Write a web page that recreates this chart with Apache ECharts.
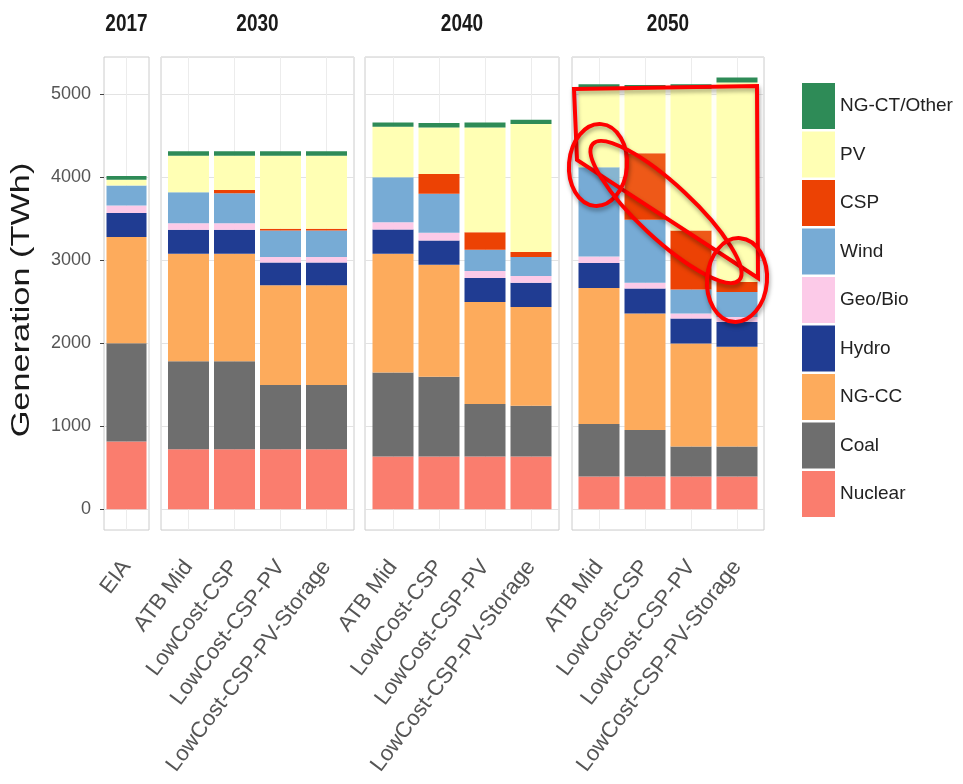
<!DOCTYPE html>
<html>
<head>
<meta charset="utf-8">
<script src="https://cdn.jsdelivr.net/npm/echarts@6/dist/echarts.min.js"></script>
<style>
  html, body { margin: 0; padding: 0; background: #ffffff; }
  #chart { width: 963px; height: 784px; }
</style>
</head>
<body>
<div id="chart"></div>
<script>
// ---- data (TWh) ----
const years = ['2017', '2030', '2040', '2050'];
const scenarios2017 = ['EIA'];
const scenarios = ['ATB Mid', 'LowCost-CSP', 'LowCost-CSP-PV', 'LowCost-CSP-PV-Storage'];
const sources = ['Nuclear', 'Coal', 'NG-CC', 'Hydro', 'Geo/Bio', 'Wind', 'CSP', 'PV', 'NG-CT/Other'];
const legendOrder = ['NG-CT/Other', 'PV', 'CSP', 'Wind', 'Geo/Bio', 'Hydro', 'NG-CC', 'Coal', 'Nuclear'];
const yTicks = [0, 1000, 2000, 3000, 4000, 5000];

// order of values: EIA 2017 | 2030 x4 scenarios | 2040 x4 | 2050 x4
const nuclear = [815, 724, 724, 724, 724, 635, 635, 635, 635, 394, 394, 394, 394];
const coal    = [1185, 1061, 1061, 773, 773, 1014, 961, 633, 613, 634, 562, 361, 361];
const ngcc    = [1280, 1295, 1295, 1201, 1201, 1430, 1351, 1230, 1190, 1638, 1402, 1243, 1202];
const hydro   = [290, 288, 288, 277, 277, 293, 292, 288, 293, 301, 301, 300, 301];
const geoBio  = [90, 79, 79, 64, 64, 88, 93, 84, 79, 80, 72, 60, 60];
const wind    = [240, 373, 361, 321, 321, 540, 469, 258, 229, 1074, 757, 289, 300];
const csp     = [0, 0, 39, 20, 20, 0, 240, 211, 60, 0, 801, 713, 120];
const pv      = [70, 441, 414, 881, 881, 610, 560, 1262, 1543, 942, 774, 1703, 2405];
const ngctOther = [45, 52, 52, 52, 52, 51, 53, 60, 52, 60, 51, 60, 60];

const seriesValues = {
  'Nuclear': nuclear, 'Coal': coal, 'NG-CC': ngcc, 'Hydro': hydro, 'Geo/Bio': geoBio,
  'Wind': wind, 'CSP': csp, 'PV': pv, 'NG-CT/Other': ngctOther
};

// ---- styling ----
const colors = {
  'Nuclear': '#FA7D6E', 'Coal': '#6E6E6E', 'NG-CC': '#FDAB5C', 'Hydro': '#203C92',
  'Geo/Bio': '#FCCAE8', 'Wind': '#77ABD5', 'CSP': '#EC4204', 'PV': '#FFFFB4',
  'NG-CT/Other': '#2E8B57'
};
const FONT = '"Liberation Sans", Arial, Helvetica, sans-serif';
const TOP = 57, BOTTOM = 530;                // panel top / bottom edge
const Y_MIN = -250, Y_MAX = 5450;
const UNIT = 46;                             // width of one scenario slot
// panel frames (left, right)
const frames = [[104, 149], [161, 354], [365, 559], [572, 764]];

const grid = [], xAxis = [], yAxis = [], series = [];

years.forEach((yr, p) => {
  const cats = p === 0 ? scenarios2017 : scenarios;
  const start = p === 0 ? 0 : 1 + 4 * (p - 1);
  const [fl, fr] = frames[p];
  const fw = fr - fl;
  const bandW = p === 0 ? fw : cats.length * UNIT;
  const bl = fl + (fw - bandW) / 2;

  // frame grid: border + horizontal grid lines (+ y axis on the first panel)
  grid.push({
    left: fl, top: TOP, width: fw, height: BOTTOM - TOP,
    show: true, backgroundColor: '#ffffff', borderColor: '#cccccc', borderWidth: 1,
    containLabel: false, outerBoundsMode: 'none'
  });
  // bar grid
  grid.push({
    left: bl, top: TOP, width: bandW, height: BOTTOM - TOP,
    show: false, containLabel: false, outerBoundsMode: 'none'
  });

  xAxis.push({ gridIndex: 2 * p, type: 'value', min: 0, max: 1, show: false });
  xAxis.push({
    gridIndex: 2 * p + 1, type: 'category', data: cats, position: 'bottom',
    axisLine: { show: false },
    axisTick: { show: true, alignWithLabel: true, length: 5, lineStyle: { color: '#555555', width: 1 } },
    axisLabel: {
      show: true, interval: 0, rotate: 53, margin: 33,
      fontSize: 22, color: '#555555', fontFamily: FONT
    },
    splitLine: { show: false }
  });

  yAxis.push({
    gridIndex: 2 * p, type: 'value', min: Y_MIN, max: Y_MAX,
    axisLine: { show: false },
    axisTick: p === 0
      ? { show: true, length: 4, customValues: yTicks, lineStyle: { color: '#444444', width: 1 } }
      : { show: false },
    axisLabel: p === 0
      ? { show: true, margin: 13, fontSize: 18, color: '#555555', fontFamily: FONT,
          customValues: yTicks, formatter: v => String(v) }
      : { show: false },
    splitLine: { show: true, lineStyle: { color: '#e3e3e3', width: 1 } }
  });
  yAxis.push({ gridIndex: 2 * p + 1, type: 'value', min: Y_MIN, max: Y_MAX, show: false });

  // vertical grid lines at each scenario position
  series.push({
    type: 'line', name: 'grid-' + yr, xAxisIndex: 2 * p + 1, yAxisIndex: 2 * p + 1,
    data: [], silent: true, z: 1,
    markLine: {
      z: 1, silent: true, symbol: 'none', animation: false,
      label: { show: false },
      lineStyle: { color: '#ececec', width: 1, type: 'solid' },
      emphasis: { disabled: true },
      data: cats.map((c, i) => ({ xAxis: i }))
    }
  });

  sources.forEach(src => {
    series.push({
      type: 'bar', name: src, stack: 'panel' + p,
      xAxisIndex: 2 * p + 1, yAxisIndex: 2 * p + 1,
      barWidth: p === 0 ? 40 : 41,
      data: seriesValues[src].slice(start, start + cats.length),
      itemStyle: { color: colors[src], borderWidth: 0 },
      emphasis: { disabled: true },
      z: 2
    });
  });
});

// facet strip labels and the y axis title
const graphics = [];
years.forEach((yr, p) => {
  const [fl, fr] = frames[p];
  graphics.push({
    type: 'text', x: (fl + fr) / 2, y: 24, scaleY: 1.3, z: 50,
    style: { text: yr, fontSize: 19, fontWeight: 'bold', fontFamily: FONT, fill: '#1a1a1a',
             align: 'center', verticalAlign: 'middle', textAlign: 'center', textVerticalAlign: 'middle' }
  });
});
graphics.push({
  type: 'text', x: 22, y: 300, rotation: Math.PI / 2, scaleX: 1.32, z: 50,
  style: { text: 'Generation (TWh)', fontSize: 26, fontFamily: FONT, fill: '#1a1a1a',
           align: 'center', verticalAlign: 'middle', textAlign: 'center', textVerticalAlign: 'middle' }
});

// red highlight marks over the 2050 panel
const redLine = {
  fill: 'none', stroke: '#ff0000', lineWidth: 4,
  shadowBlur: 4, shadowColor: 'rgba(0,0,0,0.35)', shadowOffsetX: 1, shadowOffsetY: 3
};
const wedge = [[574, 89], [757, 86], [758, 278], [577, 160]];
graphics.push({
  type: 'polygon', z: 90, silent: true, shape: { points: wedge },
  style: { fill: 'rgba(255,255,170,0.12)', stroke: 'none' }
});
graphics.push({
  type: 'polygon', z: 91, silent: true, shape: { points: wedge },
  style: Object.assign({ lineJoin: 'miter' }, redLine)
});
graphics.push({
  type: 'ellipse', z: 92, silent: true, x: 598, y: 165, rotation: -0.08,
  shape: { cx: 0, cy: 0, rx: 29, ry: 41 }, style: redLine
});
graphics.push({
  type: 'ellipse', z: 92, silent: true, x: 666, y: 212, rotation: -0.75,
  shape: { cx: 0, cy: 0, rx: 100, ry: 27 }, style: redLine
});
graphics.push({
  type: 'ellipse', z: 92, silent: true, x: 737, y: 280, rotation: -0.08,
  shape: { cx: 0, cy: 0, rx: 30, ry: 42 }, style: redLine
});

const chart = echarts.init(document.getElementById('chart'), null, { renderer: 'canvas' });
chart.setOption({
  animation: false,
  backgroundColor: '#ffffff',
  textStyle: { fontFamily: FONT },
  legend: {
    data: legendOrder, orient: 'vertical', left: 802, top: 83, padding: 0,
    itemWidth: 33, itemHeight: 46, itemGap: 2.5, icon: 'rect', selectedMode: false,
    textStyle: { fontSize: 19, color: '#222222', fontFamily: FONT }
  },
  grid: grid,
  xAxis: xAxis,
  yAxis: yAxis,
  series: series,
  graphic: graphics
});
</script>
</body>
</html>
